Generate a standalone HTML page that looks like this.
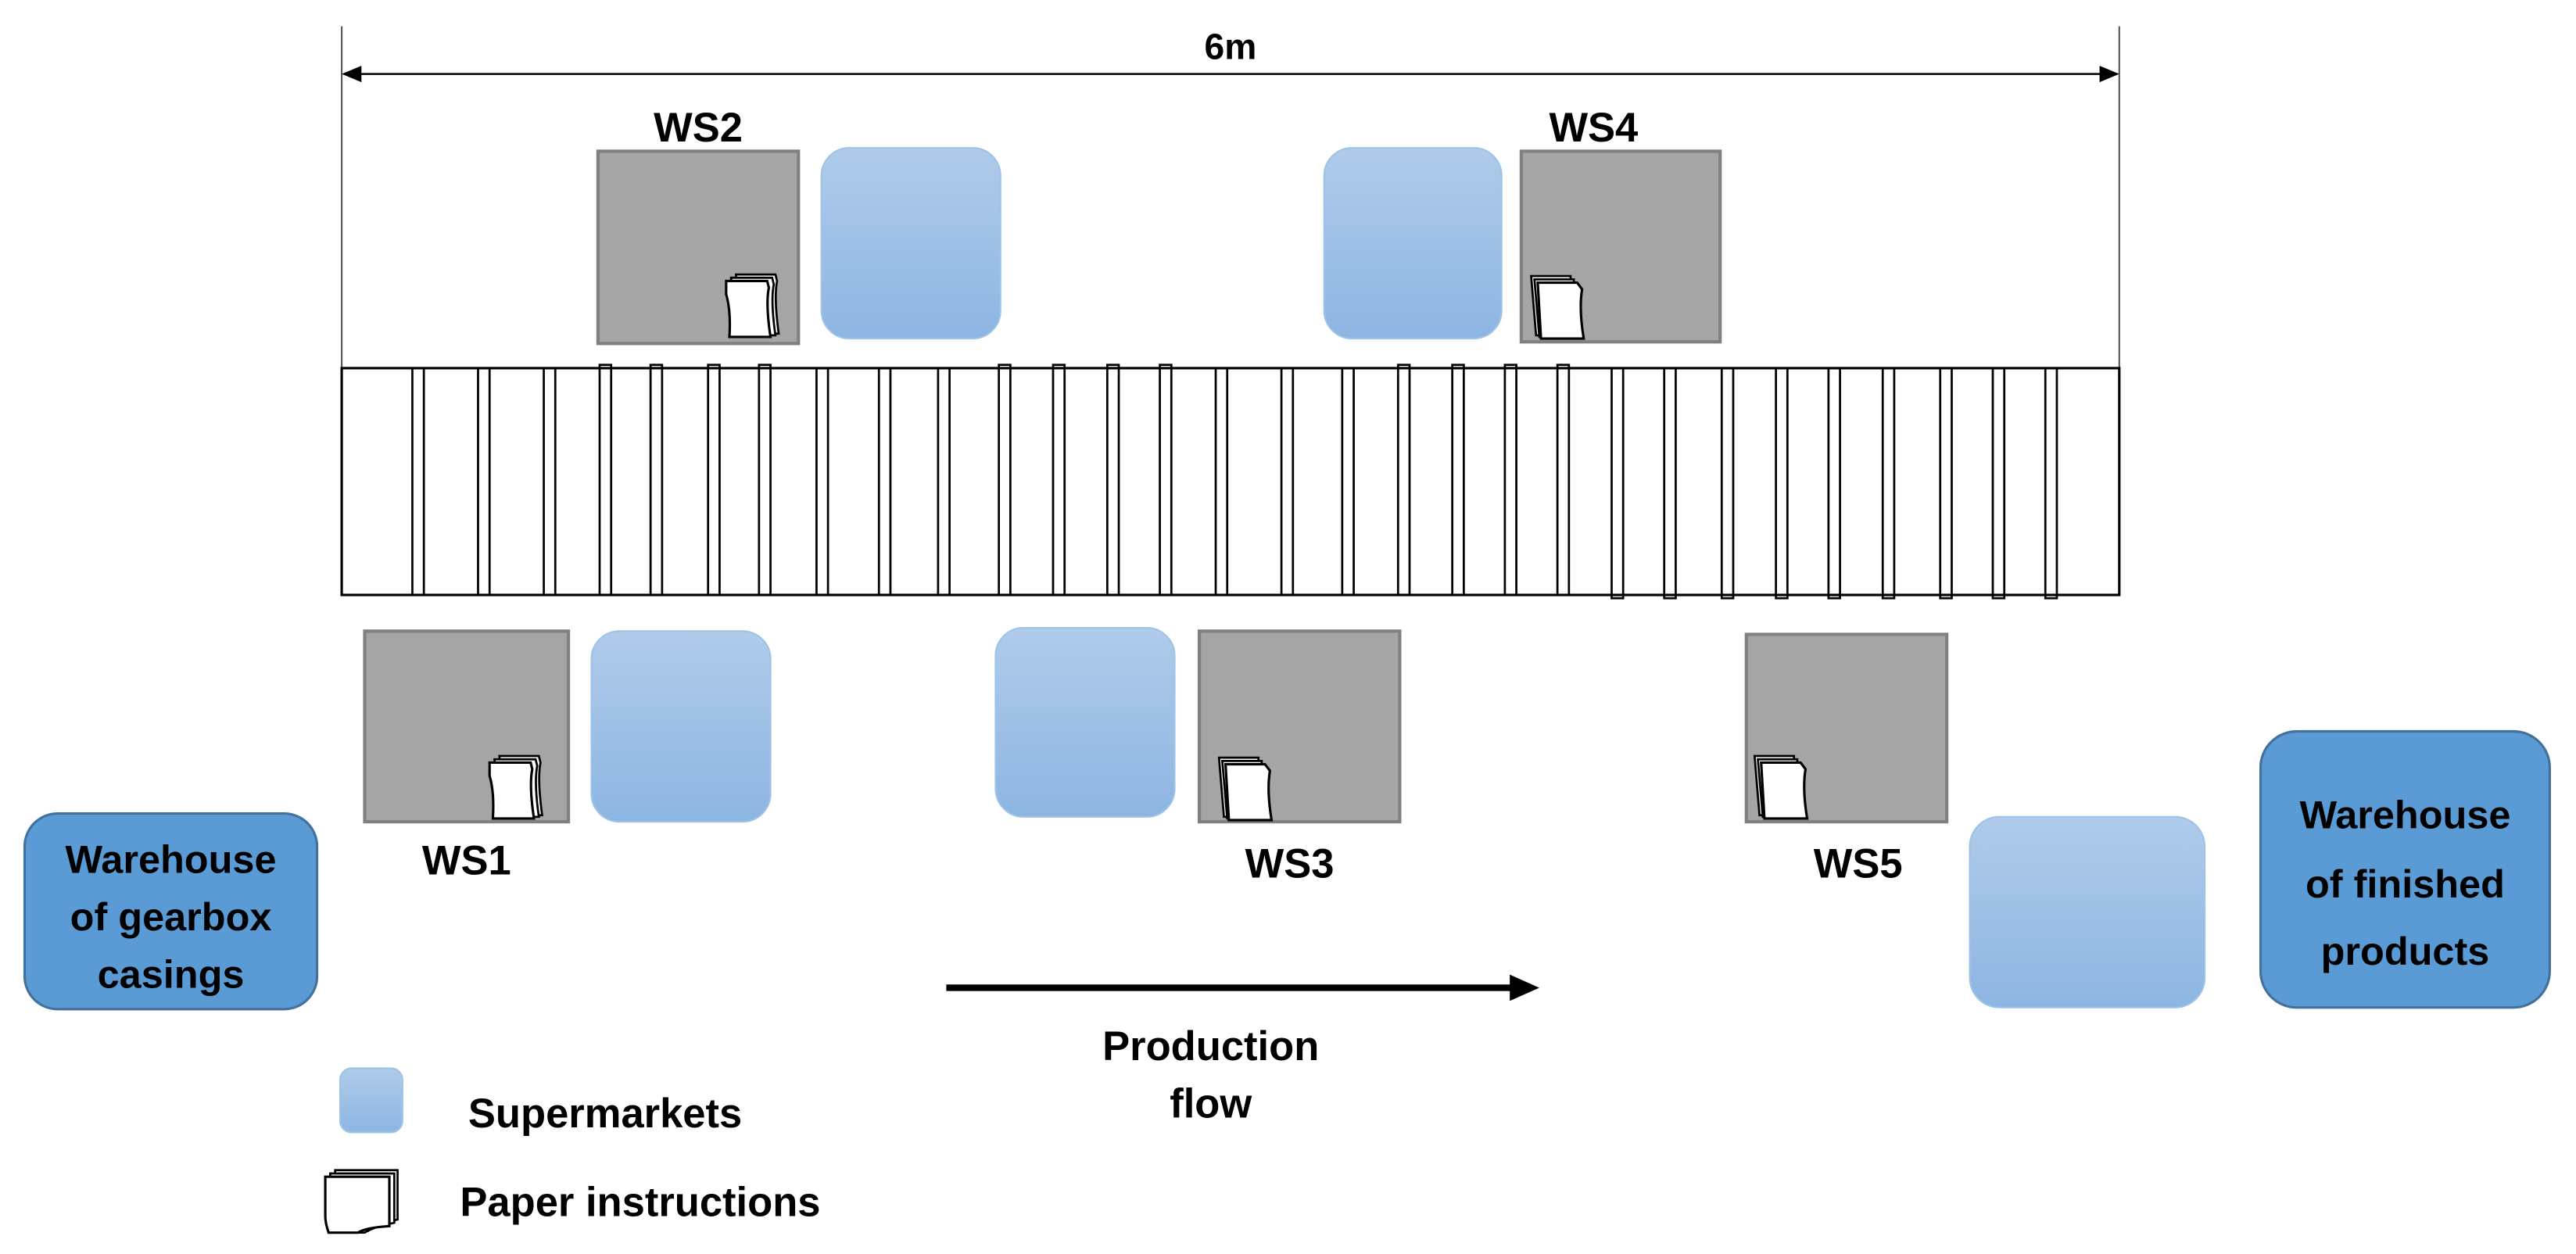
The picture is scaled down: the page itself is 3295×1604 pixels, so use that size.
<!DOCTYPE html>
<html><head><meta charset="utf-8"><style>html,body{margin:0;padding:0;background:#fff}svg{display:block}</style></head>
<body>
<svg width="3295" height="1604" viewBox="0 0 1568 763" preserveAspectRatio="none" xmlns="http://www.w3.org/2000/svg" font-family="Liberation Sans, sans-serif" font-weight="bold">
<defs>
<linearGradient id="sm" x1="0" y1="0" x2="0" y2="1"><stop offset="0" stop-color="#b0cbea"/><stop offset="1" stop-color="#8db5e2"/></linearGradient>
<g id="paper">
<path d="M6,0 H30 L31,4 Q29,14 32,36 H8 Z" fill="#fff" stroke="#000" stroke-width="1.3"/>
<path d="M3,2 H28 L29,6 Q27,16 30,37 H5 Z" fill="#fff" stroke="#000" stroke-width="1.3"/>
<path d="M0,4 H25 L26,8 Q24,18 27,38 H2 Q3,22 0,12 Z" fill="#fff" stroke="#000" stroke-width="1.5"/>
</g>
<g id="paperR">
<path d="M0,0 H24 L24,36 H3 Z" fill="#fff" stroke="#000" stroke-width="1.3"/>
<path d="M2,2 H26 L26,37 H5 Z" fill="#fff" stroke="#000" stroke-width="1.3"/>
<path d="M4,4 H28 L31,8 Q29,20 32,38 H6 Z" fill="#fff" stroke="#000" stroke-width="1.5"/>
</g>
<g id="paperL">
<path d="M6,0 H44 V30 Q30,33 26,37 H6 Z" fill="#fff" stroke="#000" stroke-width="1.3"/>
<path d="M3,2 H42 V32 Q28,35 24,38 H3 Z" fill="#fff" stroke="#000" stroke-width="1.3"/>
<path d="M0,4 H39 V34 Q24,35 20,38 H2 Q0,32 0,28 Z" fill="#fff" stroke="#000" stroke-width="1.5"/>
</g>
</defs>

<!-- dimension -->
<line x1="208" y1="16" x2="208" y2="224" stroke="#555" stroke-width="1"/>
<line x1="1290" y1="16" x2="1290" y2="224" stroke="#555" stroke-width="1"/>
<line x1="214" y1="45" x2="1284" y2="45" stroke="#000" stroke-width="1.2"/>
<path d="M208,45 L220,40 L220,50 Z" fill="#000"/>
<path d="M1290,45 L1278,40 L1278,50 Z" fill="#000"/>
<text x="749" y="36" font-size="22" text-anchor="middle">6m</text>

<!-- top stations -->
<text x="425" y="86" font-size="25" text-anchor="middle">WS2</text>
<rect x="364" y="92" width="122" height="117" fill="#a5a5a5" stroke="#808080" stroke-width="2"/>
<use href="#paper" x="442" y="167"/>
<rect x="500" y="90" width="109" height="116" rx="17" fill="url(#sm)" stroke="#9dc3e6" stroke-width="1"/>

<text x="970" y="86" font-size="25" text-anchor="middle">WS4</text>
<rect x="806" y="90" width="108" height="116" rx="17" fill="url(#sm)" stroke="#9dc3e6" stroke-width="1"/>
<rect x="926" y="92" width="121" height="116" fill="#a5a5a5" stroke="#808080" stroke-width="2"/>
<use href="#paperR" x="932" y="168"/>

<!-- conveyor -->
<rect x="208" y="224" width="1082" height="138" fill="#fff" stroke="#000" stroke-width="1.5"/>
<g stroke="#000" stroke-width="1.3" fill="none">
<rect x="251" y="224" width="7" height="138"/><rect x="291" y="224" width="7" height="138"/><rect x="331" y="224" width="7" height="138"/>
<rect x="365" y="222" width="7" height="140"/><rect x="396" y="222" width="7" height="140"/><rect x="431" y="222" width="7" height="140"/><rect x="462" y="222" width="7" height="140"/>
<rect x="497" y="224" width="7" height="138"/><rect x="535" y="224" width="7" height="138"/><rect x="571" y="224" width="7" height="138"/>
<rect x="608" y="222" width="7" height="140"/><rect x="641" y="222" width="7" height="140"/><rect x="674" y="222" width="7" height="140"/><rect x="706" y="222" width="7" height="140"/>
<rect x="740" y="224" width="7" height="138"/><rect x="780" y="224" width="7" height="138"/><rect x="817" y="224" width="7" height="138"/>
<rect x="851" y="222" width="7" height="140"/><rect x="884" y="222" width="7" height="140"/><rect x="916" y="222" width="7" height="140"/><rect x="948" y="222" width="7" height="140"/>
<rect x="981" y="224" width="7" height="140"/><rect x="1013" y="224" width="7" height="140"/><rect x="1048" y="224" width="7" height="140"/><rect x="1081" y="224" width="7" height="140"/>
<rect x="1113" y="224" width="7" height="140"/><rect x="1146" y="224" width="7" height="140"/><rect x="1181" y="224" width="7" height="140"/><rect x="1213" y="224" width="7" height="140"/><rect x="1245" y="224" width="7" height="140"/>
</g>

<!-- bottom stations -->
<rect x="222" y="384" width="124" height="116" fill="#a5a5a5" stroke="#808080" stroke-width="2"/>
<use href="#paper" x="298" y="460"/>
<rect x="360" y="384" width="109" height="116" rx="17" fill="url(#sm)" stroke="#9dc3e6" stroke-width="1"/>
<text x="284" y="532" font-size="25" text-anchor="middle">WS1</text>

<rect x="606" y="382" width="109" height="115" rx="17" fill="url(#sm)" stroke="#9dc3e6" stroke-width="1"/>
<rect x="730" y="384" width="122" height="116" fill="#a5a5a5" stroke="#808080" stroke-width="2"/>
<use href="#paperR" x="742" y="461"/>
<text x="785" y="534" font-size="25" text-anchor="middle">WS3</text>

<rect x="1063" y="386" width="122" height="114" fill="#a5a5a5" stroke="#808080" stroke-width="2"/>
<use href="#paperR" x="1068" y="460"/>
<text x="1131" y="534" font-size="25" text-anchor="middle">WS5</text>

<rect x="1199" y="497" width="143" height="116" rx="18" fill="url(#sm)" stroke="#9dc3e6" stroke-width="1"/>

<!-- warehouses -->
<rect x="15" y="495" width="178" height="119" rx="20" fill="#5b9bd5" stroke="#41719c" stroke-width="1.5"/>
<text font-size="24" text-anchor="middle"><tspan x="104" y="531">Warehouse</tspan><tspan x="104" y="566">of gearbox</tspan><tspan x="104" y="601">casings</tspan></text>
<rect x="1376" y="445" width="176" height="168" rx="22" fill="#5b9bd5" stroke="#41719c" stroke-width="1.5"/>
<text font-size="24" text-anchor="middle"><tspan x="1464" y="504">Warehouse</tspan><tspan x="1464" y="546">of finished</tspan><tspan x="1464" y="587">products</tspan></text>

<!-- flow arrow -->
<line x1="576" y1="601" x2="922" y2="601" stroke="#000" stroke-width="4"/>
<path d="M937,601 L919,593 L919,609 Z" fill="#000"/>
<text font-size="25" text-anchor="middle"><tspan x="737" y="645">Production</tspan><tspan x="737" y="680">flow</tspan></text>

<!-- legend -->
<rect x="207" y="650" width="38" height="39" rx="7" fill="url(#sm)" stroke="#9dc3e6" stroke-width="1"/>
<text x="285" y="686" font-size="25">Supermarkets</text>
<use href="#paperL" x="198" y="712"/>
<text x="280" y="740" font-size="25">Paper instructions</text>
</svg>
</body></html>
